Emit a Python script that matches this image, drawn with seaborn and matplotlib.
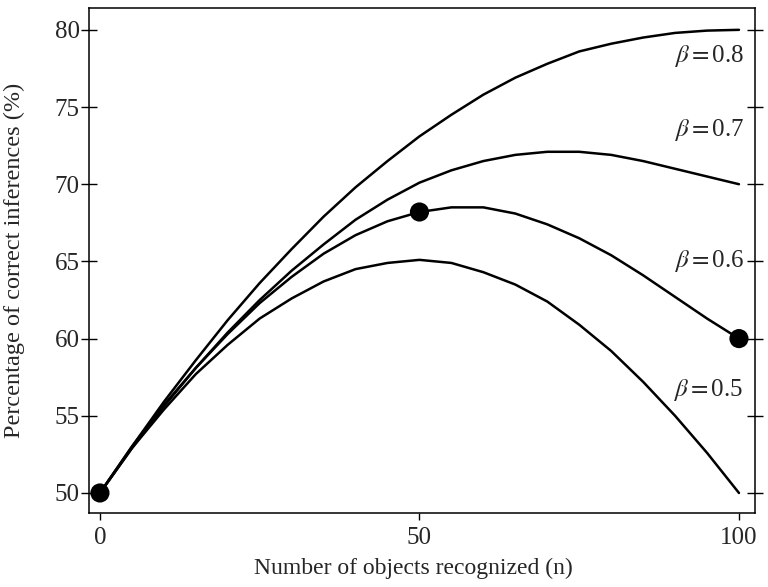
import numpy as np
import pandas as pd
import matplotlib
matplotlib.use("Agg")
import matplotlib.pyplot as plt
import seaborn as sns

# values, every 5 objects
n_recognized = [0, 5, 10, 15, 20, 25, 30, 35, 40, 45, 50,
                55, 60, 65, 70, 75, 80, 85, 90, 95, 100]
beta_08 = [50.0, 53.0, 55.9, 58.6, 61.2, 63.6, 65.8, 67.9, 69.8, 71.5, 73.1,
           74.5, 75.8, 76.9, 77.8, 78.6, 79.1, 79.5, 79.8, 79.95, 80.0]
beta_07 = [50.0, 52.9, 55.6, 58.1, 60.4, 62.5, 64.4, 66.1, 67.7, 69.0, 70.1,
           70.9, 71.5, 71.9, 72.1, 72.1, 71.9, 71.5, 71.0, 70.5, 70.0]
beta_06 = [50.0, 53.0, 55.7, 58.1, 60.3, 62.3, 64.0, 65.5, 66.7, 67.6, 68.2,
           68.5, 68.5, 68.1, 67.4, 66.5, 65.4, 64.1, 62.7, 61.3, 60.0]
beta_05 = [50.0, 52.9, 55.4, 57.7, 59.6, 61.3, 62.6, 63.7, 64.5, 64.9, 65.1,
           64.9, 64.3, 63.5, 62.4, 60.9, 59.2, 57.2, 55.0, 52.6, 50.0]

betas = ["0.8", "0.7", "0.6", "0.5"]
curves = [beta_08, beta_07, beta_06, beta_05]

# highlighted points on the beta = 0.6 curve
dot_n = [0, 50, 100]
dot_pct = [50.0, 68.2, 60.0]

# where the beta labels sit
label_x = [100.9, 100.9, 100.9, 100.6]
label_y = [78.3, 73.5, 65.0, 56.7]

sns.set_style("white")
plt.rcParams['font.family'] = ['Liberation Serif', 'DejaVu Serif']
plt.rcParams['mathtext.fontset'] = 'stix'

rows = []
for b, vals in zip(betas, curves):
    for n, v in zip(n_recognized, vals):
        rows.append({'n': n, 'pct': v, 'beta': b})
df = pd.DataFrame(rows)

fig = plt.figure(figsize=(7.68, 5.87), dpi=100)
ax = fig.add_axes([0.116, 0.126, 0.867, 0.860])

sns.lineplot(data=df, x='n', y='pct', hue='beta', palette=['black'] * 4,
             linewidth=1.8, legend=False, sort=False, ax=ax)
sns.scatterplot(x=dot_n, y=dot_pct, color='black', s=190, zorder=5,
                edgecolor='none', ax=ax)

for b, lx, ly in zip(betas, label_x, label_y):
    ax.text(lx, ly, r'$\beta = $' + b, ha='right', va='center', fontsize=18)

ax.set_xlim(-1.7, 102.5)
ax.set_ylim(48.7, 81.4)
ax.set_xticks([0, 50, 100])
ax.set_yticks([50, 55, 60, 65, 70, 75, 80])
ax.tick_params(axis='y', which='both', direction='inout', length=11.5, width=1,
               left=True, right=True, labelsize=18, pad=1, color='black')
ax.tick_params(axis='x', direction='out', length=5, width=1, bottom=True,
               top=False, labelsize=18, pad=5, color='black')
for sp in ax.spines.values():
    sp.set_color('black')
    sp.set_linewidth(1.1)

ax.set_xlabel('Number of objects recognized (n)', fontsize=17)
ax.set_ylabel('Percentage of correct inferences (%)', fontsize=17.5)
ax.xaxis.set_label_coords(0.487, -0.088)
ax.yaxis.set_label_coords(-0.096, 0.5)

fig.savefig('out.png', dpi=100)
